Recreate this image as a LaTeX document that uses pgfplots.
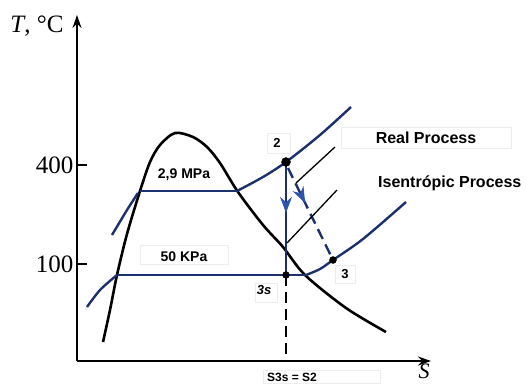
\documentclass[border=0pt]{standalone}
\usepackage{fontspec}
\setmainfont{Liberation Serif}
\newfontfamily\lsans{Liberation Sans}
\usepackage{pgfplots}
\pgfplotsset{compat=1.18}
\usetikzlibrary{arrows.meta,decorations.markings}
\definecolor{navy}{RGB}{28,48,110}
\definecolor{arrblue}{RGB}{45,85,175}
\begin{document}
\begin{tikzpicture}
\useasboundingbox (-77pt,-23pt) rectangle (449pt,361pt);
\begin{axis}[
  x=1pt, y=1pt,
  xmin=77, xmax=431, ymin=23, ymax=369,
  axis lines=left,
  axis line style={line width=1.5pt,-{Stealth[length=13pt,width=9pt]}},
  xtick=\empty,
  ytick={120,219}, yticklabels={100,400},
  tick style={line width=1.5pt,black},
  major tick length=10pt, tick align=inside,
  /pgf/number format/assume math mode=true,
  yticklabel style={font=\fontsize{25}{25}\selectfont},
  clip=false,
]
% saturation dome
\addplot[black, line width=2.6pt, smooth, tension=0.5] coordinates {(103,42)(110,74)(117,109)(127,150)(140,193)(150,222)(160,239)(175,251)(193,247)(207,237)(220,221)(238,192)(263,159)(283,137)(305,109)(346,76)(386,52)};
% 2.9 MPa isobar
\addplot[navy, line width=2.4pt] coordinates {(140,193)(237,193)};
\addplot[navy, line width=2.4pt, smooth] coordinates {(237,193)(263,207)(286,222)(320,249)(351,277)};
\addplot[navy, line width=2.4pt, smooth] coordinates {(112,149)(127,174)(138,191)};
% 50 kPa isobar
\addplot[navy, line width=2.4pt] coordinates {(117,109)(306,109)};
\addplot[navy, line width=2.4pt, smooth] coordinates {(306,109)(320,115)(333,124)(363,145)(406,182)};
\addplot[navy, line width=2.4pt, smooth] coordinates {(87,77)(100,94)(117,109)};
% isentropic expansion
\addplot[navy, line width=2.4pt, postaction={decorate}, decoration={markings, mark=at position 0.45 with {\arrow[arrblue, line width=1pt]{Stealth[length=16pt,width=12pt]}}}] coordinates {(286,222)(286,109)};
% real expansion
\addplot[navy, line width=2.4pt, dash pattern=on 11pt off 6pt, postaction={decorate}, decoration={markings, mark=at position 0.38 with {\arrow[arrblue, line width=1pt]{Stealth[length=16pt,width=12pt]}}}] coordinates {(288,216)(333,124)};
% s3s = s2
\addplot[black, line width=1.8pt, dash pattern=on 11pt off 6pt] coordinates {(286,109)(286,23)};
% leader lines
\addplot[black, line width=1.3pt] coordinates {(335,237)(296,201)};
\addplot[black, line width=1.3pt] coordinates {(337,194)(287,141)};
% state points
\addplot[only marks, mark=*, mark size=4.5pt, black] coordinates {(286,222)};
\addplot[only marks, mark=*, mark size=3.5pt, black] coordinates {(286,109)(333,124)};
% faint label boxes
\draw[gray!14, line width=0.7pt] (axis cs:341,257) rectangle (axis cs:511,236);
\draw[gray!14, line width=0.7pt] (axis cs:140,139) rectangle (axis cs:228,120);
\draw[gray!14, line width=0.7pt] (axis cs:267,251) rectangle (axis cs:290,231);
\draw[gray!14, line width=0.7pt] (axis cs:335,119) rectangle (axis cs:355,101);
\draw[gray!14, line width=0.7pt] (axis cs:255,101) rectangle (axis cs:277,82);
\draw[gray!14, line width=0.7pt] (axis cs:263,14) rectangle (axis cs:380,1);
% labels
\node[font=\lsans\bfseries\fontsize{16}{16}\selectfont] at (axis cs:426,246) {Real Process};
\node[anchor=west, inner sep=0pt, font=\lsans\bfseries\fontsize{16}{16}\selectfont] at (axis cs:378,201) {Isentrópic Process};
\node[font=\lsans\bfseries\fontsize{14}{14}\selectfont] at (axis cs:184,209) {2,9 MPa};
\node[font=\lsans\bfseries\fontsize{14}{14}\selectfont] at (axis cs:184,127) {50 KPa};
\node[font=\lsans\bfseries\fontsize{13}{13}\selectfont] at (axis cs:277,241) {2};
\node[font=\lsans\bfseries\fontsize{13}{13}\selectfont] at (axis cs:345,110) {3};
\node[font=\lsans\bfseries\itshape\fontsize{13}{13}\selectfont] at (axis cs:264,94) {3s};
\node[font=\lsans\bfseries\fontsize{12}{12}\selectfont] at (axis cs:292,7) {S3s = S2};
\node[font=\itshape\fontsize{22}{22}\selectfont, inner sep=0pt] at (axis cs:424,13) {S};
\node[font=\fontsize{25}{25}\selectfont] at (axis cs:37,358) {\textit{T}, °C};
\end{axis}
\end{tikzpicture}
\end{document}
